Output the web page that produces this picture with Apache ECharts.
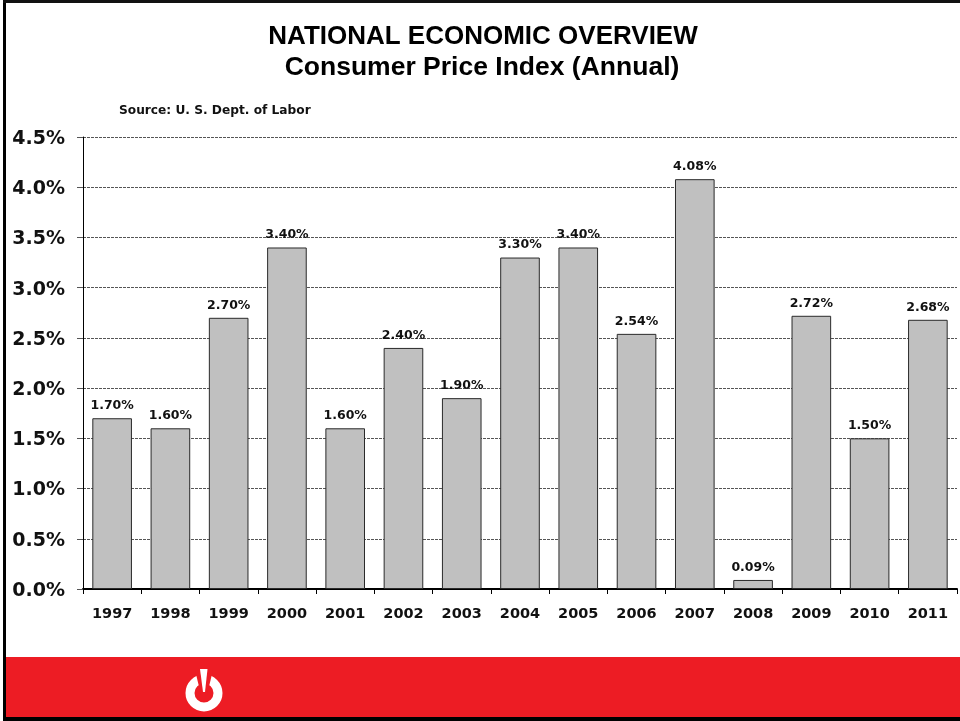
<!DOCTYPE html>
<html>
<head>
<meta charset="utf-8">
<style>
html,body{margin:0;padding:0;background:#fff;}
#chart{width:960px;height:721px;}
</style>
<script src="https://cdn.jsdelivr.net/npm/echarts@6/dist/echarts.min.js"></script>
</head>
<body>
<div id="chart"></div>
<script>
const years = ['1997','1998','1999','2000','2001','2002','2003','2004','2005','2006','2007','2008','2009','2010','2011'];
const cpi = [1.70,1.60,2.70,3.40,1.60,2.40,1.90,3.30,3.40,2.54,4.08,0.09,2.72,1.50,2.68];
const titleLines = ['NATIONAL ECONOMIC OVERVIEW','Consumer Price Index (Annual)'];
const sourceNote = 'Source: U. S. Dept. of Labor';

const labelFont = '"DejaVu Sans", sans-serif';
const chart = echarts.init(document.getElementById('chart'), null, {renderer:'canvas'});

chart.setOption({
  animation:false,
  backgroundColor:'#ffffff',
  grid:{left:83,right:3,top:137,bottom:132,containLabel:false},
  xAxis:{
    type:'category',
    data:years,
    boundaryGap:true,
    axisLine:{show:true,lineStyle:{color:'#000',width:2}},
    axisTick:{show:true,alignWithLabel:false,length:5,lineStyle:{color:'#000',width:1}},
    axisLabel:{color:'#111',fontFamily:labelFont,fontWeight:'bold',fontSize:14.5,margin:18,interval:0}
  },
  yAxis:{
    type:'value',
    min:0,max:4.5,interval:0.5,
    axisLine:{show:true,onZero:false,lineStyle:{color:'#000',width:1}},
    axisTick:{show:true,length:6,lineStyle:{color:'#555',width:1}},
    // tick labels sit slightly below their gridlines
    axisLabel:{color:'#111',fontFamily:labelFont,fontWeight:'bold',fontSize:19,margin:18,verticalAlign:'top',lineHeight:4,
      formatter:v=>v.toFixed(1)+'%'},
    splitLine:{show:true,lineStyle:{color:'#555',width:1,type:[3,1]}}
  },
  series:[{
    type:'bar',
    data:cpi,
    barWidth:'68%',
    itemStyle:{color:'#c0c0c0',borderColor:'#2a2a2a',borderWidth:1},
    label:{show:true,position:'top',distance:6,color:'#111',fontFamily:labelFont,fontWeight:'bold',fontSize:12.5,
      formatter:p=>p.value.toFixed(2)+'%'}
  }],
  graphic:[
    // frame of the slide: left, top and bottom edges only
    {type:'rect',z:0,shape:{x:3,y:0,width:3,height:721},style:{fill:'#000'}},
    {type:'rect',z:0,shape:{x:3,y:0,width:957,height:3},style:{fill:'#111'}},
    {type:'rect',z:0,shape:{x:3,y:717,width:957,height:4},style:{fill:'#000'}},
    // footer band
    {type:'rect',z:1,shape:{x:6,y:657,width:954,height:60},style:{fill:'#ed1c24'}},
    // power mark in the footer
    {type:'arc',z:2,shape:{cx:204,cy:693,r:14,startAngle:0,endAngle:Math.PI*2},style:{fill:'none',stroke:'#fff',lineWidth:9}},
    {type:'polygon',z:3,shape:{points:[[195,670],[213,670],[207,695],[201,695]]},style:{fill:'#ed1c24'}},
    {type:'polygon',z:4,shape:{points:[[200,669],[207.5,669],[205,692],[203,692]]},style:{fill:'#fff'}},
    {type:'text',z:5,x:483,y:24,style:{text:titleLines[0],fill:'#000',font:'bold 26px "Liberation Sans", sans-serif',align:'center',verticalAlign:'top'}},
    {type:'text',z:5,x:482,y:54,style:{text:titleLines[1],fill:'#000',font:'bold 26.5px "Liberation Sans", sans-serif',align:'center',verticalAlign:'top'}},
    {type:'text',z:5,x:119,y:105,style:{text:sourceNote,fill:'#111',font:'bold 12.2px "DejaVu Sans", sans-serif',align:'left',verticalAlign:'top'}}
  ]
});
</script>
</body>
</html>
